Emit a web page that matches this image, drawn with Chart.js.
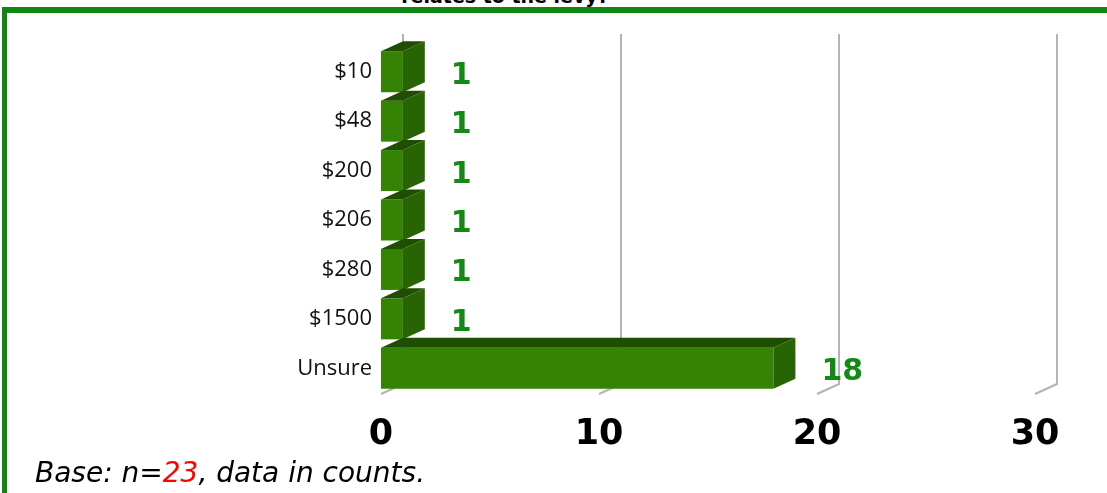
<!DOCTYPE html>
<html>
<head>
<meta charset="utf-8">
<script src="https://cdn.jsdelivr.net/npm/chart.js@4"></script>
<style>
  html, body { margin: 0; padding: 0; background: #fff; overflow: hidden; }
  #wrap { position: relative; width: 1107px; height: 493px; }
  #frame { position: absolute; left: 2px; top: 7px; width: 1200px; height: 600px;
           border-top: 6px solid #108810; border-left: 5px solid #108810; }
  #title { position: absolute; left: 0; width: 1010px; top: -13px; text-align: center;
           font: bold 19px "DejaVu Sans", sans-serif; line-height: 19px; color: #000; white-space: nowrap; }
  #note { position: absolute; left: 35px; top: 459px; font: oblique 28px "DejaVu Sans", sans-serif;
          line-height: 28px; color: #000; white-space: nowrap; }
  #note span { color: #ff0000; }
  canvas { position: absolute; left: 0; top: 0; }
</style>
</head>
<body>
<div id="wrap">
  <div id="frame"></div>
  <div id="title">relates to the levy?</div>
  <canvas id="levyChart" width="1107" height="493"></canvas>
  <div id="note">Base: n=<span>23</span>, data in counts.</div>
</div>
<script>
// answers and counts
const categories = ['$10', '$48', '$200', '$206', '$280', '$1500', 'Unsure'];
const counts = [1, 1, 1, 1, 1, 1, 18];
const xTicks = [0, 10, 20, 30];

const DX = 22, DY = 10; // fake 3D depth
const FRONT = '#348304', SIDE = '#286404', TOP = '#1f4e02';

const bar3d = {
  id: 'bar3d',
  beforeDatasetsDraw(chart) {
    // back wall gridlines with the little floor stubs
    const { ctx, chartArea } = chart;
    const xs = chart.scales.x;
    ctx.save();
    ctx.strokeStyle = '#b4b4b4';
    ctx.lineWidth = 2;
    xTicks.forEach(v => {
      const xf = xs.getPixelForValue(v), xb = xf + DX;
      ctx.beginPath();
      ctx.moveTo(xb, chartArea.top - DY - 3);
      ctx.lineTo(xb, chartArea.bottom - DY + 1);
      ctx.lineTo(xf, chartArea.bottom + 1);
      ctx.stroke();
    });
    ctx.restore();
  },
  afterDatasetsDraw(chart) {
    const { ctx } = chart;
    const bars = chart.getDatasetMeta(0).data;
    ctx.save();
    bars.forEach(b => {
      const top = b.y - b.height / 2, bottom = b.y + b.height / 2;
      ctx.fillStyle = TOP;
      ctx.beginPath();
      ctx.moveTo(b.base, top);
      ctx.lineTo(b.base + DX, top - DY);
      ctx.lineTo(b.x + DX, top - DY);
      ctx.lineTo(b.x, top);
      ctx.closePath();
      ctx.fill();
      ctx.fillStyle = SIDE;
      ctx.beginPath();
      ctx.moveTo(b.x, top);
      ctx.lineTo(b.x + DX, top - DY);
      ctx.lineTo(b.x + DX, bottom - DY);
      ctx.lineTo(b.x, bottom);
      ctx.closePath();
      ctx.fill();
    });
    // value labels
    ctx.fillStyle = '#138a13';
    ctx.font = 'bold 30px "DejaVu Sans"';
    ctx.textAlign = 'left';
    ctx.textBaseline = 'alphabetic';
    bars.forEach((b, i) => {
      ctx.fillText(String(counts[i]), b.x + 48, b.y + 12);
    });
    ctx.restore();
  }
};

new Chart(document.getElementById('levyChart'), {
  type: 'bar',
  data: {
    labels: categories,
    datasets: [{
      data: counts,
      backgroundColor: FRONT,
      borderWidth: 0,
      categoryPercentage: 1,
      barPercentage: 0.83
    }]
  },
  options: {
    indexAxis: 'y',
    responsive: false,
    animation: false,
    layout: { padding: { top: 47, right: 72, left: 0, bottom: 0 } },
    plugins: { legend: { display: false }, tooltip: { enabled: false }, title: { display: false } },
    scales: {
      x: {
        min: 0, max: 30,
        afterBuildTicks: s => { s.ticks = xTicks.map(v => ({ value: v })); },
        afterFit: s => { s.height = 100; },
        grid: { display: false, drawTicks: false },
        border: { display: false },
        ticks: { color: '#000', padding: 21, maxRotation: 0, font: { family: 'DejaVu Sans', size: 35, weight: 'bold' } }
      },
      y: {
        afterFit: s => { s.width = 381; },
        grid: { display: false, drawTicks: false },
        border: { display: false },
        ticks: { color: '#111', padding: 9, font: { family: 'Open Sans', size: 22 } }
      }
    }
  },
  plugins: [bar3d]
});
</script>
</body>
</html>
